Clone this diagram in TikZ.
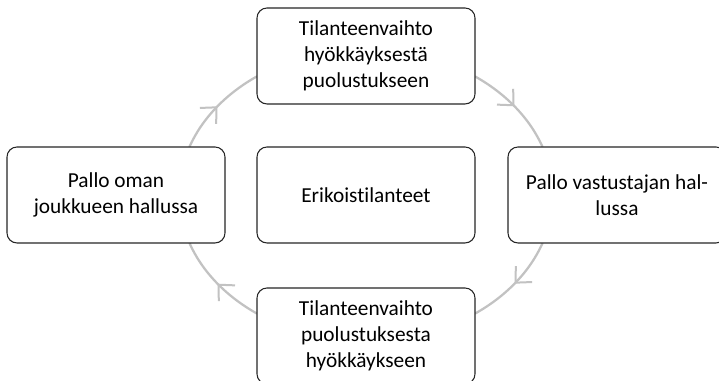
\documentclass[tikz,border=0pt]{standalone}
\usepackage{fontspec}
\setmainfont{Carlito}[Ligatures=NoCommon]
\usetikzlibrary{arrows.meta,decorations.markings}
\begin{document}
\begin{tikzpicture}[x=0.75pt,y=0.75pt,
 box/.style={draw=black!85, line width=0.8pt, rounded corners=7.5pt, fill=white,
   minimum width=163.5pt, minimum height=72pt, align=center,
   font=\fontsize{16}{19.5}\selectfont, inner sep=0pt},
 cyc/.style={draw=black!24, line width=1.7pt, postaction={decorate},
   decoration={markings, mark=at position 0.5 with {\arrow[black!24]{Straight Barb[length=9pt,width=17pt,line width=1.5pt]}}}},
 ell/.style={x radius=140.25pt, y radius=109.5pt}]
\useasboundingbox (0,0) rectangle (719,381);
\clip (0,0) rectangle (719,381);
\coordinate (p1) at (189.4,234);
\coordinate (p2) at (475,304.6);
\coordinate (p3) at (542.6,138);
\coordinate (p4) at (257,67.4);
\draw[cyc] (p1) arc[ell, start angle=160.81, end angle=125.66];
\draw[cyc] (p2) arc[ell, start angle=54.34, end angle=19.19];
\draw[cyc] (p3) arc[ell, start angle=-19.19, end angle=-54.34];
\draw[cyc] (p4) arc[ell, start angle=-125.66, end angle=-160.81];
\node[box] (top) at (366,325) {Tilanteenvaihto\\hyökkäyksestä\\puolustukseen};
\node[box] (left) at (116,186) {Pallo oman\\joukkueen hallussa};
\node[box] (mid) at (366,186) {Erikoistilanteet};
\node[box] (right) at (617,186) {Pallo vastustajan hal-\\lussa};
\node[box] (bot) at (366,45) {Tilanteenvaihto\\puolustuksesta\\hyökkäykseen};
\end{tikzpicture}
\end{document}
